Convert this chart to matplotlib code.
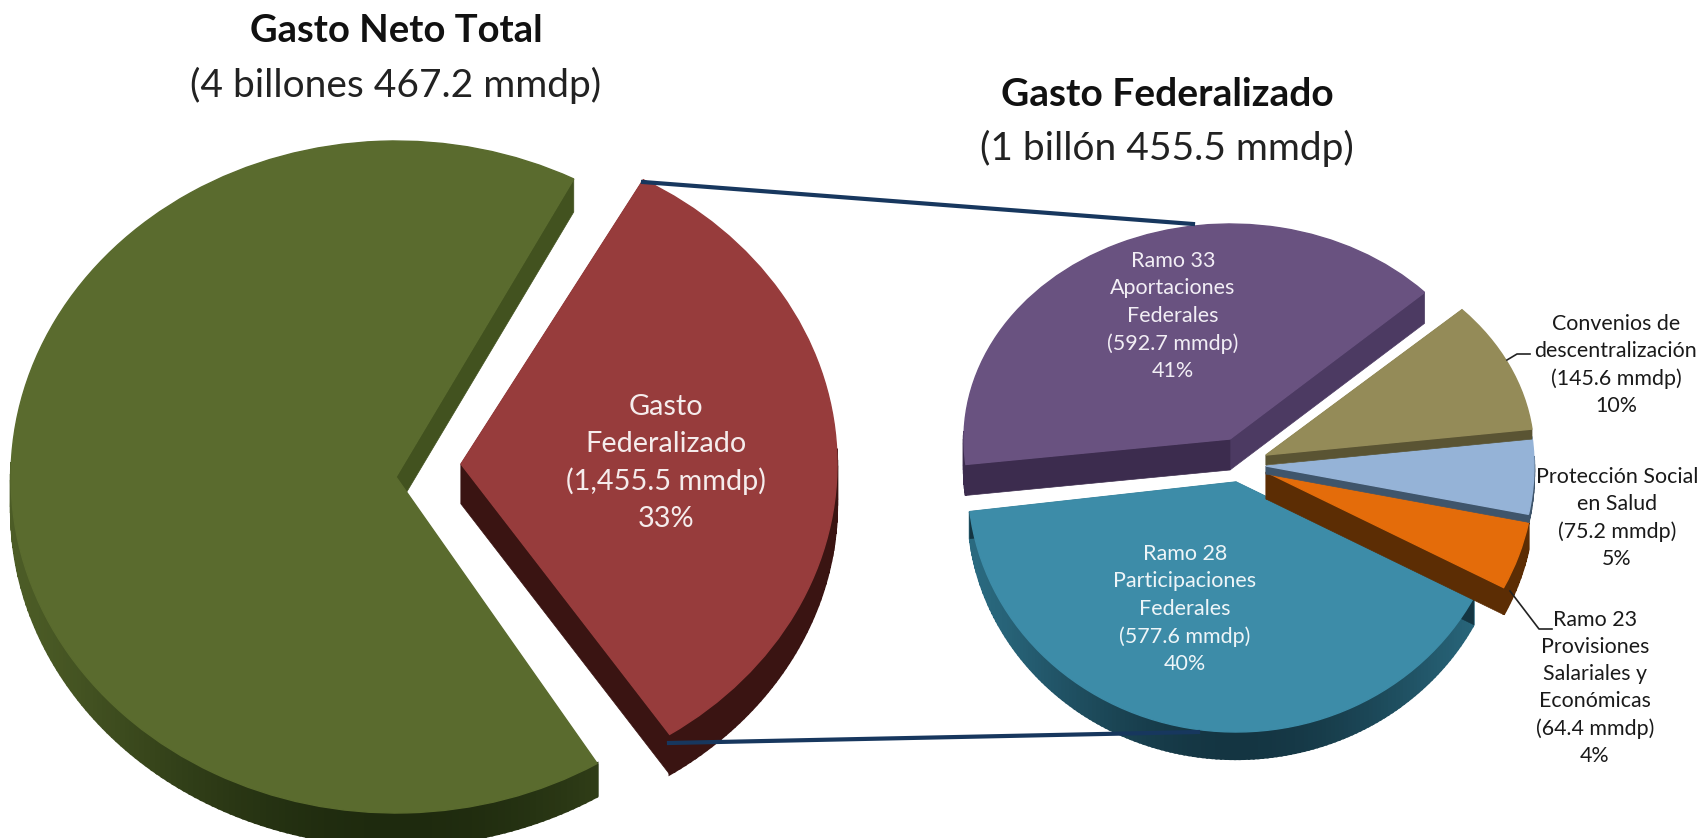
import numpy as np
import matplotlib
matplotlib.use("Agg")
import matplotlib.pyplot as plt
from matplotlib.colors import to_rgb
from matplotlib.patches import Wedge, Polygon
from matplotlib.transforms import Affine2D

plt.rcParams["font.family"] = ["Lato", "DejaVu Sans"]

# Datos (mmdp)
neto_cats = ["Resto", "Gasto Federalizado"]
neto_vals = [3011.7, 1455.5]
fed_cats = ["Convenios", "Proteccion", "Ramo 23", "Ramo 28", "Ramo 33"]
fed_vals = [145.6, 75.2, 64.4, 577.6, 592.7]

lab_red = "Gasto\nFederalizado\n(1,455.5 mmdp)\n33%"
lab_33 = "Ramo 33\nAportaciones\nFederales\n(592.7 mmdp)\n41%"
lab_28 = "Ramo 28\nParticipaciones\nFederales\n(577.6 mmdp)\n40%"
lab_conv = "Convenios de\ndescentralización\n(145.6 mmdp)\n10%"
lab_prot = "Protección Social\nen Salud\n(75.2 mmdp)\n5%"
lab_23 = "Ramo 23\nProvisiones\nSalariales y\nEconómicas\n(64.4 mmdp)\n4%"

fig = plt.figure(figsize=(17, 8.38), dpi=100)
ax = fig.add_axes([0, 0, 1, 1])
ax.set_xlim(0, 1700)
ax.set_ylim(838, 0)
ax.axis("off")


def rebanada(cx, cy, rx, ry, t1, t2, depth, top, rim, cuts, rim_claro=None):
    # pared exterior (solo la mitad de abajo se ve), caras de corte y tapa
    ts = np.arange(t1, t2 + 1, 1.0)
    ts[-1] = t2
    for a, b in zip(ts[:-1], ts[1:]):
        if np.sin(np.radians(a)) > 0.03 and np.sin(np.radians(b)) > 0.03:
            continue
        xa, ya = cx + rx * np.cos(np.radians(a)), cy - ry * np.sin(np.radians(a))
        xb, yb = cx + rx * np.cos(np.radians(b)), cy - ry * np.sin(np.radians(b))
        col = to_rgb(rim)
        if rim_claro is not None:
            f = abs(np.sin(np.radians(a))) ** 3
            col = tuple(f * np.array(to_rgb(rim)) + (1 - f) * np.array(to_rgb(rim_claro)))
        ax.add_patch(Polygon([(xa, ya), (xb, yb), (xb, yb + depth), (xa, ya + depth)],
                             fc=col, ec=col, lw=1.6))
    for t, cut in zip((t1, t2), cuts):
        if cut is None:
            continue
        ex = cx + rx * np.cos(np.radians(t))
        ey = cy - ry * np.sin(np.radians(t))
        ax.add_patch(Polygon([(cx, cy), (ex, ey), (ex, ey + depth), (cx, cy + depth)],
                             fc=cut, ec=cut, lw=0.5))
    tr = Affine2D().scale(rx, -ry).translate(cx, cy) + ax.transData
    ax.add_patch(Wedge((0, 0), 1, t1, t2, fc=top, ec=top, lw=1.0, transform=tr))


# Angulos a partir de los valores
a_neto = np.array(neto_vals) / sum(neto_vals) * 360
a_fed = np.array(fed_vals) / sum(fed_vals) * 360

t0 = 61
rebanada(396, 477, 385, 336, t0 + 1.5, t0 + a_neto[0] - 2.2, 33, "#5A6B2E", "#1E2A0E",
         ("#42521F", None), rim_claro="#4C5C26")
rebanada(461, 464, 376, 325, t0 - a_neto[1], t0, 40, "#973C3C", "#3A1412", ("#3A1412", "#3A1412"))

ang = 43 - np.cumsum(a_fed)
t_conv, t_prot, t_23, t_28 = ang[0], ang[1], ang[2], ang[3] - 2.8
rebanada(1230, 439, 266, 215, ang[4], t_28, 31, "#695280", "#3C2C4E", ("#4C3A62", "#3C2C4E"))
rebanada(1236, 482, 268, 250, t_28, t_23, 27, "#3D8CA8", "#143542", ("#143542", "#143542"),
         rim_claro="#2A6A80")
rebanada(1266, 472, 268, 250, t_23, t_prot, 27, "#E46C0A", "#5C2D04", ("#5C2D04", "#5C2D04"))
rebanada(1266, 466, 268, 240, t_prot, t_conv, 8, "#95B3D7", "#3F556B", ("#3F556B", "#3F556B"))
rebanada(1266, 455, 268, 213, t_conv, 43, 10, "#948B58", "#5A5433", ("#5A5433", "#5A5433"))

# Lineas de conexion y guias
ax.plot([643, 1193], [182, 224], color="#17375E", lw=3)
ax.plot([669, 1198], [743, 732], color="#17375E", lw=3)
ax.plot([1507, 1517, 1530], [360, 354, 354], color="#222222", lw=1.2)
ax.plot([1510, 1539, 1552], [591, 629, 629], color="#222222", lw=1.2)

# Titulos
ax.text(396, 31, "Gasto Neto Total", ha="center", va="center", fontsize=27.5, fontweight="bold", color="#111111")
ax.text(396, 85, "(4 billones 467.2 mmdp)", ha="center", va="center", fontsize=28, color="#222222")
ax.text(1167, 94, "Gasto Federalizado", ha="center", va="center", fontsize=28, fontweight="bold", color="#111111")
ax.text(1167, 148, "(1 billón 455.5 mmdp)", ha="center", va="center", fontsize=28, color="#222222")

# Etiquetas
ax.text(666, 463, lab_red, ha="center", va="center", ma="center", fontsize=20.8, linespacing=1.5, color="#F5ECEC")
ax.text(1173, 316, lab_33, ha="center", va="center", ma="center", fontsize=15.5, linespacing=1.45, color="#F2EEF5")
ax.text(1185, 609, lab_28, ha="center", va="center", ma="center", fontsize=15.5, linespacing=1.45, color="#EEF5F8")
ax.text(1616, 365, lab_conv, ha="center", va="center", ma="center", fontsize=15.4, linespacing=1.45, color="#1A1A1A")
ax.text(1617, 518, lab_prot, ha="center", va="center", ma="center", fontsize=15.4, linespacing=1.45, color="#1A1A1A")
ax.text(1595, 688, lab_23, ha="center", va="center", ma="center", fontsize=15.4, linespacing=1.45, color="#1A1A1A")

fig.savefig("out.png", dpi=100)
